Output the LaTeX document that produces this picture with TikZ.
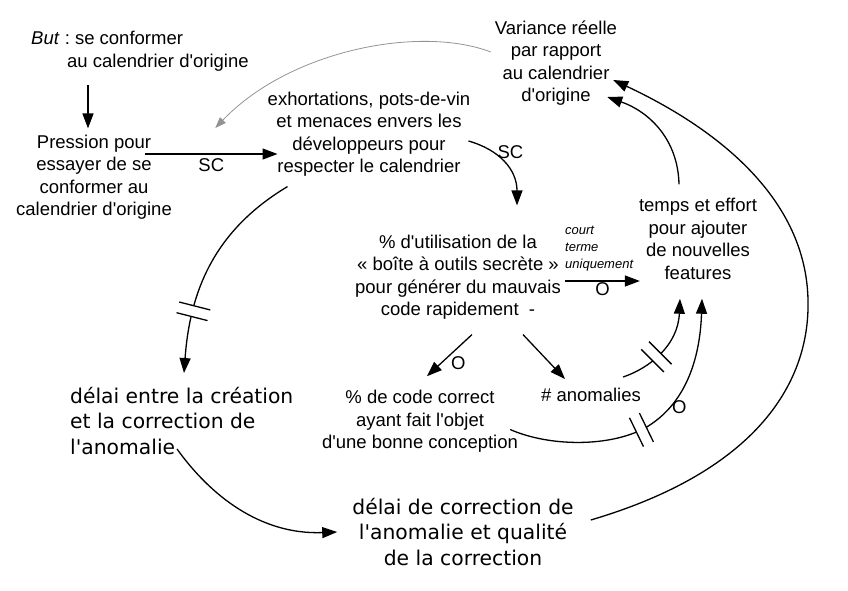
\documentclass[tikz,border=0pt]{standalone}
\usepackage{fontspec}
\setmainfont{Liberation Sans}[Ligatures=TeXOff]
\newfontfamily\dejavu{DejaVu Sans}[Ligatures=TeXOff]
\usetikzlibrary{arrows.meta,calc,decorations.markings}
\frenchspacing

\begin{document}
\begin{tikzpicture}[x=1pt, y=-1pt,
    texto/.style={align=center, inner sep=0pt, font=\fontsize{18.5}{22.5}\selectfont},
    etiq/.style={inner sep=1pt, font=\fontsize{18.5}{22.5}\selectfont},
    grande/.style={inner sep=0pt, font=\dejavu\fontsize{20.3}{25.5}\selectfont},
    petit/.style={inner sep=0pt, align=left, font=\itshape\fontsize{13}{17}\selectfont},
    fleche/.style={-{Triangle[length=15pt,width=11pt]}, line width=1.3pt},
    gris/.style={-{Triangle[length=11pt,width=8pt]}, line width=0.8pt, gray!85},
    retard/.style={postaction={decorate}, decoration={markings, mark=at position #1 with {
        \fill[white] (-5.5pt,-13pt) rectangle (5.5pt,13pt);
        \draw[-, line width=1.3pt] (-5.5pt,-16pt) -- (-5.5pt,16pt) (5.5pt,-16pt) -- (5.5pt,16pt);}}}]
    \useasboundingbox (0,0) rectangle (848,591);

    % Nodos
    \node (but) at (31,51) [texto, anchor=west, align=left] {\textit{But} : se conformer\\\hspace*{36pt}au calendrier d'origine};
    \node (pression) at (94,177) [texto] {Pression pour\\essayer de se\\conformer au\\calendrier d'origine};
    \node (exhort) at (369,134) [texto] {exhortations, pots-de-vin\\et menaces envers les\\développeurs pour\\respecter le calendrier};
    \node (variance) at (556,63) [texto] {Variance réelle\\par rapport\\au calendrier\\d'origine};
    \node (boite) at (458,277) [texto] {\% d'utilisation de la\\« boîte à outils secrète »\\pour générer du mauvais\\code rapidement\ \ -};
    \node (temps) at (698,239) [texto] {temps et effort\\pour ajouter\\de nouvelles\\features};
    \node (correct) at (420,421.5) [texto] {\% de code correct\\ayant fait l'objet\\d'une bonne conception};
    \node (anom) at (591,395) [texto] {\# anomalies};
    \node (delai1) at (70,421) [grande, anchor=west, align=left] {délai entre la création\\et la correction de\\l'anomalie};
    \node (delai2) at (463,532) [grande, align=center] {délai de correction de\\l'anomalie et qualité\\de la correction};
    \node (court) at (565,249) [petit, anchor=west] {court\\terme\\uniquement};

    % Flechas
    \draw[fleche] ($(but.south west)+(57,14)$) -- ($(pression.north)+(-6,-6)$);
    \draw[fleche] ($(pression.east)+(-27,-23)$) -- ($(exhort.west)+(10,20)$)
        node[midway, below=3pt, etiq] {SC} coordinate[midway] (sc);
    \draw[gris] ($(variance.west)+(-4,-11)$) .. controls (420,25) and (290,50) .. ($(sc)+(4,-26)$);
    \draw[fleche] ($(exhort.east)+(-2,7)$) .. controls (500,150) and (517,170) .. ($(boite.north)+(59,-29)$)
        node[pos=0.3, right=3pt, etiq] {SC};
    \draw[fleche] ($(boite.east)+(4,4)$) -- ($(temps.west)+(1,42)$) node[midway, below, etiq] {O};
    \draw[fleche] ($(boite.south)+(14,15)$) -- ($(correct.north)+(7,-14)$) node[midway, below right, etiq] {O};
    \draw[fleche] ($(boite.south)+(65,15)$) -- ($(anom.north)+(-26,-9)$);
    \draw[fleche] ($(temps.north)+(-19,-14)$) .. controls (678,140) and (650,112) .. ($(variance.east)+(-10,34)$);
    \draw[fleche] ($(delai2.east)+(17,-12)$) .. controls (760,470) and (810,380) .. (808,300)
        .. controls (806,200) and (720,130) .. ($(variance.east)+(-4,17)$);
    \draw[fleche] ($(delai1.south west)+(107,-6)$) .. controls (210,495) and (260,535) .. ($(delai2.west)+(-15,0)$);

    % Retardos
    \draw[fleche, retard=0.72] ($(exhort.south west)+(20,10)$) .. controls (215,230) and (190,290) .. ($(delai1.north west)+(114,-14)$);
    \draw[fleche, retard=0.38] ($(anom.north east)+(-18,-11)$) .. controls (650,368) and (678,345) .. ($(temps.south)+(-18,19)$);
    \draw[fleche, retard=0.47] ($(correct.east)+(-8,8)$) .. controls (550,447) and (610,447) .. (645,428)
        .. controls (685,405) and (700,360) .. ($(temps.south)+(4,19)$) node[pos=0.25, right, etiq] {O};
\end{tikzpicture}
\end{document}
